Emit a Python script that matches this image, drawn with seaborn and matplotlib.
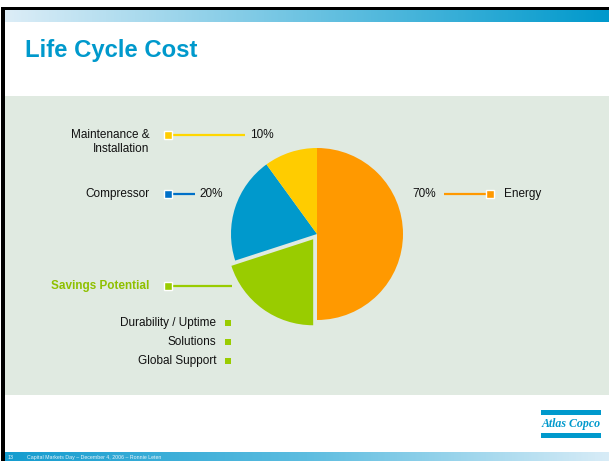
import numpy as np
import matplotlib
matplotlib.use("Agg")
import matplotlib.pyplot as plt
import seaborn as sns
from matplotlib.colors import LinearSegmentedColormap
from matplotlib.patches import Rectangle

# ---- data ----
segments = ["Energy", "Savings Potential", "Compressor", "Maintenance & Installation"]
wedge_sizes = [50, 20, 20, 10]
colors = ["#ff9900", "#99cc00", "#0099cc", "#ffcc00"]
explode = [0, 0.065, 0, 0]
pct_labels = ["70%", "20%", "10%"]
savings_items = ["Durability / Uptime", "Solutions", "Global Support"]
title = "Life Cycle Cost"
footer = "Capital Markets Day – December 4, 2006 – Ronnie Leten"
page_no = "13"

sns.set_theme(style="white")
plt.rcParams['font.family'] = ['Liberation Sans', 'DejaVu Sans']

W, H = 609, 461
fig = plt.figure(figsize=(W / 100, H / 100), dpi=100)
fig.patch.set_facecolor("white")

bg = fig.add_axes([0, 0, 1, 1])
bg.set_xlim(0, W)
bg.set_ylim(H, 0)
bg.axis("off")

# top border and gradient bar
bg.add_patch(Rectangle((1, 7), W, 3.5, color="black", lw=0, zorder=1))
bg.add_patch(Rectangle((1, 7), 4, H, color="black", lw=0, zorder=1))
grad = np.linspace(0, 1, 256).reshape(1, -1)
cm_top = LinearSegmentedColormap.from_list("t", ["#dcedf7", "#6cc3e2", "#0099cc"])
bg.imshow(grad, extent=(5, W, 22, 10.5), cmap=cm_top, aspect="auto", zorder=2)
cm_bot = LinearSegmentedColormap.from_list("b", ["#149ccf", "#5dbde0", "#d8ecf7"])
bg.imshow(grad, extent=(5, W, H, 452), cmap=cm_bot, aspect="auto", zorder=2)

# panel
bg.add_patch(Rectangle((5, 96), W - 5, 299, color="#e0eae1", lw=0, zorder=1))

# title
bg.text(25, 51, title, fontsize=17.2, fontweight="bold", color="#0099cc",
        ha="left", va="center")

# footer
bg.text(8, 457, page_no, fontsize=3.8, color="#e8f4fa", ha="left", va="center", zorder=3)
bg.text(27, 457, footer, fontsize=3.8, color="#e8f4fa", ha="left", va="center", zorder=3)

# logo
bg.add_patch(Rectangle((541, 410), 60, 5, color="#0099cc", lw=0))
bg.add_patch(Rectangle((541, 433), 60, 5, color="#0099cc", lw=0))
bg.text(571, 424, "Atlas Copco", fontsize=8.6, color="#0099cc", ha="center", va="center",
        family=["Liberation Serif", "DejaVu Serif"], style="italic", fontweight="bold")

# pie
cx, cy, r = 317, 234, 86
pie_ax = fig.add_axes([(cx - 100) / W, (H - cy - 100) / H, 200 / W, 200 / H])
pie_ax.pie(wedge_sizes, colors=colors, explode=explode, startangle=90,
           counterclock=False, radius=r / 100, wedgeprops=dict(linewidth=0))
pie_ax.set_xlim(-1, 1)
pie_ax.set_ylim(-1, 1)
pie_ax.axis("off")

txt = "#111111"
fs = 8.5

def leader(x0, x1, y, col, sq_x, sq_col, lw=1.6):
    bg.plot([x0, x1], [y, y], color=col, lw=lw, solid_capstyle="butt", zorder=4)
    bg.plot([sq_x], [y], marker="s", ms=6, mfc=sq_col, mec="white", mew=1, zorder=5)

# Maintenance
bg.text(149.5, 135, "Maintenance &", fontsize=fs, color=txt, ha="right", va="center")
bg.text(149.5, 149.3, "Installation", fontsize=fs, color=txt, ha="right", va="center")
leader(168, 245, 135, "#ffd700", 168, colors[3])
bg.text(250.5, 135, pct_labels[2], fontsize=fs, color=txt, ha="left", va="center")

# Compressor
bg.text(149.5, 194, segments[2], fontsize=fs, color=txt, ha="right", va="center")
leader(168, 195, 194, "#0070c8", 168, "#0070c8")
bg.text(199, 194, pct_labels[1], fontsize=fs, color=txt, ha="left", va="center")

# Energy
bg.text(412.5, 194, pct_labels[0], fontsize=fs, color=txt, ha="left", va="center")
leader(443.5, 490, 194, colors[0], 490, colors[0])
bg.text(504, 194, segments[0], fontsize=fs, color=txt, ha="left", va="center")

# Savings potential
bg.text(149.5, 286, segments[1], fontsize=fs, color="#8fc000", fontweight="bold",
        ha="right", va="center")
leader(168, 232, 286, "#99cc00", 168, colors[1])

for i, item in enumerate(savings_items):
    y = 323.3 + i * 18.7
    bg.text(216.5, y, item, fontsize=fs, color=txt, ha="right", va="center")
    bg.plot([227.7], [y], marker="s", ms=4.5, mfc=colors[1], mec=colors[1], mew=0, zorder=5)

fig.savefig("out.png", dpi=100, facecolor="white")
